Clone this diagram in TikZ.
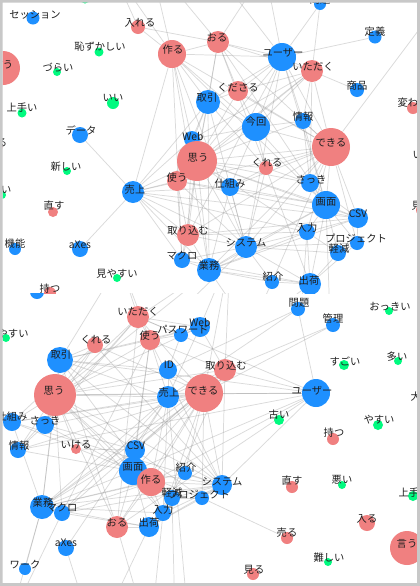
\documentclass[tikz,border=0pt]{standalone}
\usepackage{fontspec}
\setmainfont{Noto Sans CJK JP}
\definecolor{nred}{RGB}{240,128,128}
\definecolor{nblue}{RGB}{30,144,255}
\definecolor{ngreen}{RGB}{0,250,127}
\definecolor{framecol}{RGB}{200,200,200}
\tikzset{
 rn/.style={circle, fill=nred, inner sep=0pt, draw=none},
 bn/.style={circle, fill=nblue, inner sep=0pt, draw=none},
 gn/.style={circle, fill=ngreen, inner sep=0pt, draw=none},
 anchorpt/.style={circle, inner sep=0pt, draw=none},
 lab/.style={inner sep=0pt, font=\fontsize{7.7}{9}\selectfont, text=black!88},
 edge/.style={draw=black!45, line width=0.55pt, opacity=0.32},
}
\newcommand\ndA[8]{\node[anchorpt, minimum size=#4*1.5pt] (#1) at (#2,#3) {};}
\newcommand\ndB[8]{\node[#5, minimum size=#4*1.5pt] (#1-c) at (#1.center) {};}
\newcommand\ndC[8]{\node[lab] (#1-t) at (#7,#8) {#6};}
\newcommand\toplist{%
\nd{tses}{33}{18}{6.5}{bn}{セッション}{35}{15}%
\nd{tgtop}{85}{-1}{4.5}{gn}{}{85}{-6}%
\nd{tir}{138}{27}{7}{rn}{入れる}{140}{23}%
\nd{thz}{99}{52}{4.5}{gn}{恥ずかしい}{100}{47}%
\nd{tzr}{57}{72}{4}{gn}{づらい}{58}{68}%
\nd{tiu}{3}{68}{17}{rn}{言う}{3}{65}%
\nd{ttk}{172}{54}{14}{rn}{作る}{173}{50}%
\nd{tor}{218}{42}{11}{rn}{おる}{217}{38}%
\nd{tus}{282}{57}{14}{bn}{ユーザー}{283}{53}%
\nd{tmo}{320}{4}{6}{bn}{問題}{320}{0}%
\nd{ttg}{375}{37}{6.5}{bn}{定義}{375}{32}%
\nd{tit}{312}{71}{11}{rn}{いただく}{313}{67}%
\nd{tkd}{238}{91}{10}{rn}{くださる}{238}{88}%
\nd{tsh2}{357}{90}{7}{bn}{商品}{357}{86}%
\nd{ttr}{208}{102}{12}{bn}{取引}{207}{98}%
\nd{tii}{113}{103}{6}{gn}{いい}{113}{98}%
\nd{tjt}{22}{113}{4.5}{gn}{上手い}{22}{108}%
\nd{tkw}{413}{108}{6}{rn}{変わる}{413}{103}%
\nd{tda}{80}{135}{8}{bn}{データ}{81}{130}%
\nd{thr}{-3}{147}{6}{rn}{入る}{-3}{143}%
\nd{twb}{192}{139}{8}{bn}{Web}{193}{136}%
\nd{tom}{197}{161}{20}{rn}{思う}{198}{158}%
\nd{tkk}{256}{127}{14}{bn}{今回}{256}{122}%
\nd{tjh}{303}{121}{8}{bn}{情報}{303}{117}%
\nd{tdk}{331}{147}{19}{rn}{できる}{331}{143}%
\nd{tat}{67}{171}{4}{gn}{新しい}{66}{167}%
\nd{tts}{177}{181}{10}{rn}{使う}{177}{178}%
\nd{tkr}{266}{168}{7}{rn}{くれる}{267}{163}%
\nd{tua}{133}{192}{11}{bn}{売上}{135}{190}%
\nd{tsk}{230}{187}{9}{bn}{仕組み}{230}{184}%
\nd{tsa}{310}{183}{9}{bn}{さっき}{311}{180}%
\nd{tok}{2}{195}{4}{gn}{大きい}{-4}{190}%
\nd{tik}{428}{160}{5}{rn}{いける}{428}{155}%
\nd{tgm}{326}{205}{14}{bn}{画面}{326}{202}%
\nd{tns}{53}{212}{5}{rn}{直す}{54}{206}%
\nd{tcs}{358}{218}{10}{bn}{CSV}{358}{214}%
\nd{ttc}{188}{235}{11}{rn}{取り込む}{188}{231}%
\nd{tny}{307}{232}{8}{bn}{入力}{307}{228}%
\nd{tpj}{357}{243}{7}{bn}{プロジェクト}{356}{238}%
\nd{tkg}{338}{253}{8}{bn}{軽減}{339}{249}%
\nd{tkn}{15}{249}{6}{bn}{機能}{15}{244}%
\nd{tax}{80}{249}{8}{bn}{aXes}{80}{245}%
\nd{tmk}{182}{260}{8}{bn}{マクロ}{182}{256}%
\nd{tsy}{246}{247}{11}{bn}{システム}{246}{243}%
\nd{tgy}{209}{270}{12}{bn}{業務}{209}{266}%
\nd{tmy}{117}{278}{4}{gn}{見やすい}{117}{274}%
\nd{tsh}{272}{282}{7}{bn}{紹介}{273}{277}%
\nd{tsk2}{310}{284}{11}{bn}{出荷}{309}{281}%
\nd{tmr}{422}{210}{6}{rn}{見る}{422}{206}%
\nd{tmt}{50}{293}{6}{rn}{持つ}{50}{289}%
}
\newcommand\botlist{%
\nd{bpb}{37}{292}{7}{bn}{機能}{37}{280}%
\nd{bmo}{298}{309}{7}{bn}{問題}{299}{303}%
\nd{bok}{389}{311}{4}{gn}{おっきい}{390}{307}%
\nd{bit}{138}{317}{11}{rn}{いただく}{138}{312}%
\nd{bkn}{333}{325}{7}{bn}{管理}{333}{319}%
\nd{bwb}{200}{327}{10}{bn}{Web}{200}{322}%
\nd{bpw}{181}{335}{7}{bn}{パスワード}{183}{330}%
\nd{bts}{150}{340}{10}{rn}{使う}{150}{336}%
\nd{bkr}{95}{345}{8}{rn}{くれる}{96}{340}%
\nd{bmy}{6}{338}{4}{gn}{見やすい}{8}{334}%
\nd{btr}{60}{360}{13}{bn}{取引}{61}{355}%
\nd{bid}{168}{370}{9}{bn}{ID}{169}{365}%
\nd{btc}{225}{370}{11}{rn}{取り込む}{226}{366}%
\nd{bsg}{344}{365}{5}{gn}{すごい}{345}{361}%
\nd{bmn}{398}{361}{4}{gn}{多い}{397}{357}%
\nd{bom}{55}{395}{21}{rn}{思う}{54}{391}%
\nd{bua}{168}{397}{11}{bn}{売上}{169}{393}%
\nd{bdk}{204}{393}{19}{rn}{できる}{203}{391}%
\nd{bus}{316}{393}{14}{bn}{ユーザー}{312}{391}%
\nd{bok2}{425}{401}{4}{gn}{大きい}{426}{397}%
\nd{bsk}{12}{422}{9}{bn}{仕組み}{12}{417}%
\nd{bsa}{45}{425}{9}{bn}{さっき}{45}{421}%
\nd{bfr}{279}{420}{5}{gn}{古い}{279}{415}%
\nd{bys}{378}{425}{5}{gn}{やすい}{379}{420}%
\nd{bmt}{333}{439}{6}{rn}{持つ}{334}{433}%
\nd{bnh}{426}{452}{6}{bn}{日本}{427}{447}%
\nd{bjh}{18}{450}{8}{bn}{情報}{19}{446}%
\nd{bik}{76}{449}{5}{rn}{いける}{76}{445}%
\nd{bcs}{135}{450}{10}{bn}{CSV}{136}{446}%
\nd{bgm}{133}{471}{14}{bn}{画面}{133}{467}%
\nd{bsh}{185}{473}{7}{bn}{紹介}{186}{468}%
\nd{btk}{151}{482}{14}{rn}{作る}{151}{480}%
\nd{bsy}{222}{485}{10}{bn}{システム}{222}{482}%
\nd{bns}{292}{487}{6}{rn}{直す}{292}{481}%
\nd{bwr}{342}{485}{4}{gn}{悪い}{342}{480}%
\nd{bjt}{413}{496}{5}{gn}{上手い}{414}{493}%
\nd{bkg}{172}{498}{8}{bn}{軽減}{172}{493}%
\nd{bpj}{202}{498}{7}{bn}{プロジェクト}{199}{494}%
\nd{bgy}{42}{507}{12}{bn}{業務}{43}{503}%
\nd{bmk}{62}{513}{8}{bn}{マクロ}{62}{508}%
\nd{bny}{163}{513}{8}{bn}{入力}{163}{510}%
\nd{bor}{117}{527}{11}{rn}{おる}{117}{523}%
\nd{bsk2}{149}{527}{10}{bn}{出荷}{149}{523}%
\nd{bhr}{367}{523}{8}{rn}{入る}{367}{519}%
\nd{bur}{287}{538}{6}{rn}{売る}{287}{533}%
\nd{biu}{407}{548}{17}{rn}{言う}{407}{544}%
\nd{bax}{66}{548}{8}{bn}{aXes}{66}{543}%
\nd{bmz}{328}{562}{4}{gn}{難しい}{329}{558}%
\nd{bwk}{25}{569}{6}{bn}{ワーク}{25}{565}%
\nd{bmr}{253}{574}{6}{rn}{見る}{254}{570}%
}
\newcommand\coreedges{tk/om, tk/tr, tk/us, tk/ua, tk/gy, tk/dk, tk/sy, tk/or, tk/gm, tk/mk,
or/us, or/tr, or/om, or/dk, or/it, or/gm, or/sk2,
us/it, us/dk, us/tr, us/om, us/jh, us/gm, us/sy, us/tc,
it/dk, it/jh, it/sa, it/om, it/ts, it/wb,
tr/om, tr/ua, tr/ts, tr/sy, tr/gy, tr/wb, tr/kr,
wb/om, wb/ts, wb/tc, wb/ua,
om/ts, om/ua, om/dk, om/kr, om/sk, om/sy, om/gy, om/gm, om/tc, om/mk, om/cs, om/ny, om/sa, om/jh,
jh/dk, jh/sa, jh/gm,
dk/gm, dk/sa, dk/cs, dk/ny, dk/sy, dk/kr, dk/ua, dk/gy, dk/sk, dk/pj, dk/sh, dk/tc,
ts/ua, ts/tc, ts/sy, ts/mk, ts/gm, ts/cs,
kr/sk, kr/sa, kr/sy,
ua/sy, ua/gy, ua/mk, ua/tc, ua/sk, ua/ax, ua/ny, ua/cs,
sk/sy, sk/gm, sk/gy,
sa/gm, sa/cs,
gm/cs, gm/ny, gm/sy, gm/sk2, gm/pj, gm/kg, gm/gy,
cs/ny, cs/pj, cs/tc, cs/gy,
tc/mk, tc/gy, tc/sy, tc/ny,
ny/sy, ny/sk2, ny/gy, ny/kg,
pj/kg, pj/sk2, pj/sy,
mk/gy, mk/sy, mk/sk2,
sy/gy, sy/sh, sy/sk2, sy/kg,
gy/sh, gy/sk2, sh/sk2, sk2/kg}
\begin{document}
\begin{tikzpicture}[x=0.75pt,y=-0.75pt]
\useasboundingbox (0,0) rectangle (420,586);
\fill[white] (0,0) rectangle (420,586);
% ---------------- top panel
\begin{scope}
\clip (2.5,2.5) rectangle (417,293.5);
\let\nd\ndA \toplist
\coordinate (tid) at (110,-35);
\coordinate (tpw) at (150,-40);
\coordinate (tkn2) at (445,-5);
\coordinate (twk) at (250,330);
\coordinate (tu1) at (215,-30);
\coordinate (tu2) at (265,-30);
\coordinate (tb1) at (160,330);
\coordinate (tb2) at (300,330);
\coordinate (tb3) at (330,320);
\def\P{t}
\foreach \a/\b in \coreedges {\draw[edge] (\P\a) -- (\P\b);}
\foreach \a/\b in {tir/ttk, tir/tor, tir/tid, ttk/tid, ttk/tpw, tor/tpw, tus/tu1, tus/tu2, tor/tu2,
 tus/tmo, tit/tmo, tus/ttg, tit/tsh2, tkd/tor, tkd/ttr, tkd/tkk, tkd/tom, tkd/tdk, tkd/tit, tkd/tus,
 tkk/ttr, tkk/tom, tkk/tdk, tkk/tit, tkk/tjh, tkk/tus, tkk/tkr, tkk/tsk, tkk/tgm, tkk/twb, tkk/ttk,
 tda/tua, tdk/tkn2, tgy/twk, tsh/twk, tsk2/twk, tsy/tb1, tny/tb2, tsk2/tb3, tgm/tb3}
 {\draw[edge] (\a) -- (\b);}
\let\nd\ndB \toplist
\let\nd\ndC \toplist
\end{scope}
% ---------------- bottom panel
\begin{scope}
\clip (2.5,293.5) rectangle (417,583);
\let\nd\ndA \botlist
\coordinate (bkk) at (230,255);
\coordinate (bkd) at (120,262);
\coordinate (bsh2) at (150,640);
\coordinate (btg) at (95,640);
\coordinate (bir) at (10,620);
\coordinate (bda) at (190,640);
\coordinate (bx1) at (175,620);
\def\P{b}
\foreach \a/\b in \coreedges {\draw[edge] (\P\a) -- (\P\b);}
\foreach \a/\b in {bmo/bus, bmo/bua, bmo/bid, bkn/bdk, bkn/btc, bur/bpj, bgy/bwk,
 bid/bom, bid/btr, bid/bua, bid/bdk, bpw/bwb, bpw/bts, bpw/bid, bpw/bit, bik/bcs, bik/bom,
 bkk/bom, bkk/bdk, bkk/bwb, bkk/bit, bkk/btc, bkd/bit, bkd/bts, bkd/btr,
 bsh2/bor, btg/bsk2, bir/bgy, bir/bmk, bda/bua, bsh2/bny, btg/bax, bx1/bkg}
 {\draw[edge] (\a) -- (\b);}
\let\nd\ndB \botlist
\let\nd\ndC \botlist
\end{scope}
% ---------------- frame
\fill[framecol, even odd rule] (0,0) rectangle (420,586) (2.5,2.5) rectangle (417,583);
\end{tikzpicture}
\end{document}
